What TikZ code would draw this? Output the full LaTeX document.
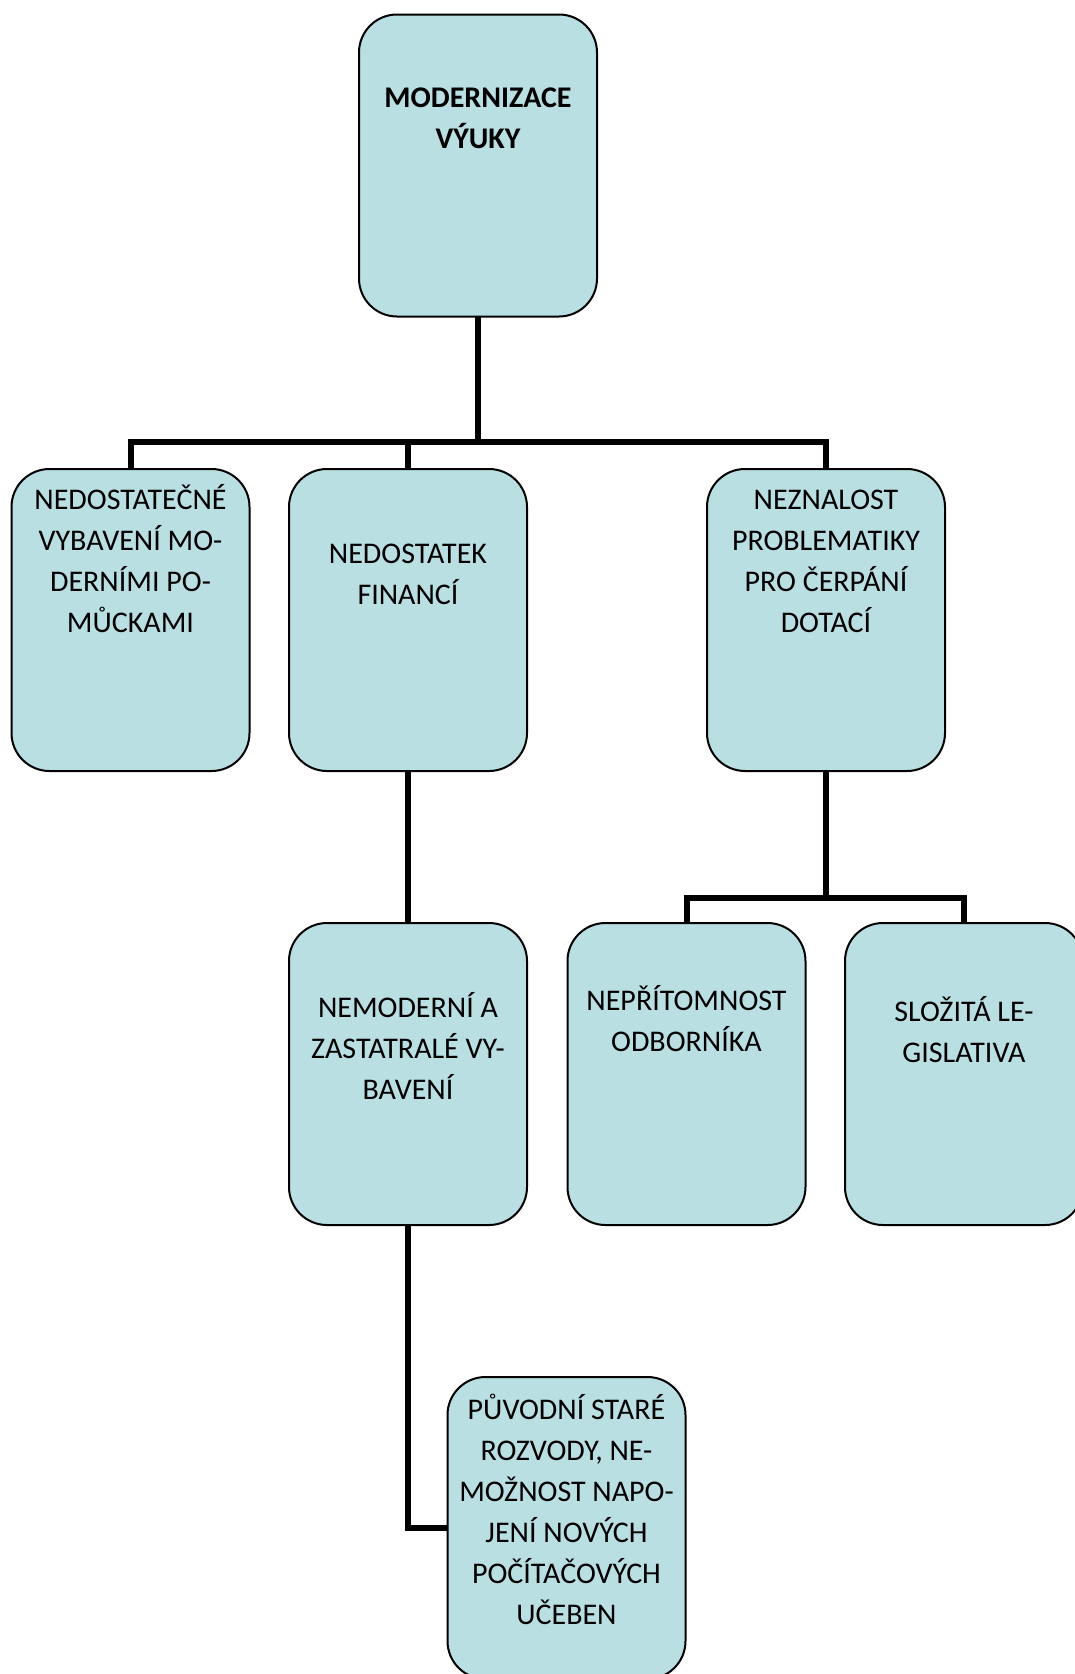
\documentclass[tikz,border=0pt]{standalone}
\usepackage{fontspec}
\setmainfont{Carlito}
\definecolor{boxfill}{HTML}{B9DFE3}
\begin{document}
\begin{tikzpicture}[x=1pt,y=-1pt,
  box/.style={draw=black,line width=2pt,fill=boxfill,rounded corners=38pt,
    minimum width=238pt,minimum height=302pt,inner sep=0pt,outer sep=0pt},
  txt/.style={align=center,inner sep=0pt,font=\fontsize{30}{41}\selectfont},
  conn/.style={draw=black,line width=6pt}]
\useasboundingbox (0,0) rectangle (1075,1674);
\clip (0,0) rectangle (1075,1674);
% boxes
\node[box] (top) at (478,165.5) {};
\node[box] (A) at (130.5,620) {};
\node[box] (B) at (408,620) {};
\node[box] (C) at (826,620) {};
\node[box] (D) at (408,1074) {};
\node[box] (E) at (686.5,1074) {};
\node[box] (F) at (964,1074) {};
\node[box] (G) at (566.5,1528) {};
% connector points
\coordinate (bus) at (478,442);
\coordinate (bus2) at (826,898);
% connectors
\draw[conn] (top.south) -- (bus);
\draw[conn] (A.north) |- (bus) -| (C.north);
\draw[conn] (B.north) -- (B.north |- bus);
\draw[conn] (B.south) -- (D.north);
\draw[conn] (C.south) -- (bus2);
\draw[conn] (E.north) |- (bus2) -| (F.north);
\draw[conn] (D.south) |- (G.west);
% texts
\node[txt,font=\fontsize{30}{41}\selectfont\bfseries] (tTop) at (478,120) {\strut MODERNIZACE\\\strut VÝUKY};
\node[txt] (tA) at (130.5,563) {\strut NEDOSTATEČNÉ\\\strut VYBAVENÍ MO-\\\strut DERNÍMI PO-\\\strut MŮCKAMI};
\node[txt] (tB) at (408,576) {\strut NEDOSTATEK\\\strut FINANCÍ};
\node[txt] (tC) at (826,563) {\strut NEZNALOST\\\strut PROBLEMATIKY\\\strut PRO ČERPÁNÍ\\\strut DOTACÍ};
\node[txt] (tD) at (408,1050.5) {\strut NEMODERNÍ A\\\strut ZASTATRALÉ VY-\\\strut BAVENÍ};
\node[txt] (tE) at (686.5,1023) {\strut NEPŘÍTOMNOST\\\strut ODBORNÍKA};
\node[txt] (tF) at (964,1034) {\strut SLOŽITÁ LE-\\\strut GISLATIVA};
\node[txt] (tG) at (566.5,1513.5) {\strut PŮVODNÍ STARÉ\\\strut ROZVODY, NE-\\\strut MOŽNOST NAPO-\\\strut JENÍ NOVÝCH\\\strut POČÍTAČOVÝCH\\\strut UČEBEN};
\end{tikzpicture}
\end{document}
